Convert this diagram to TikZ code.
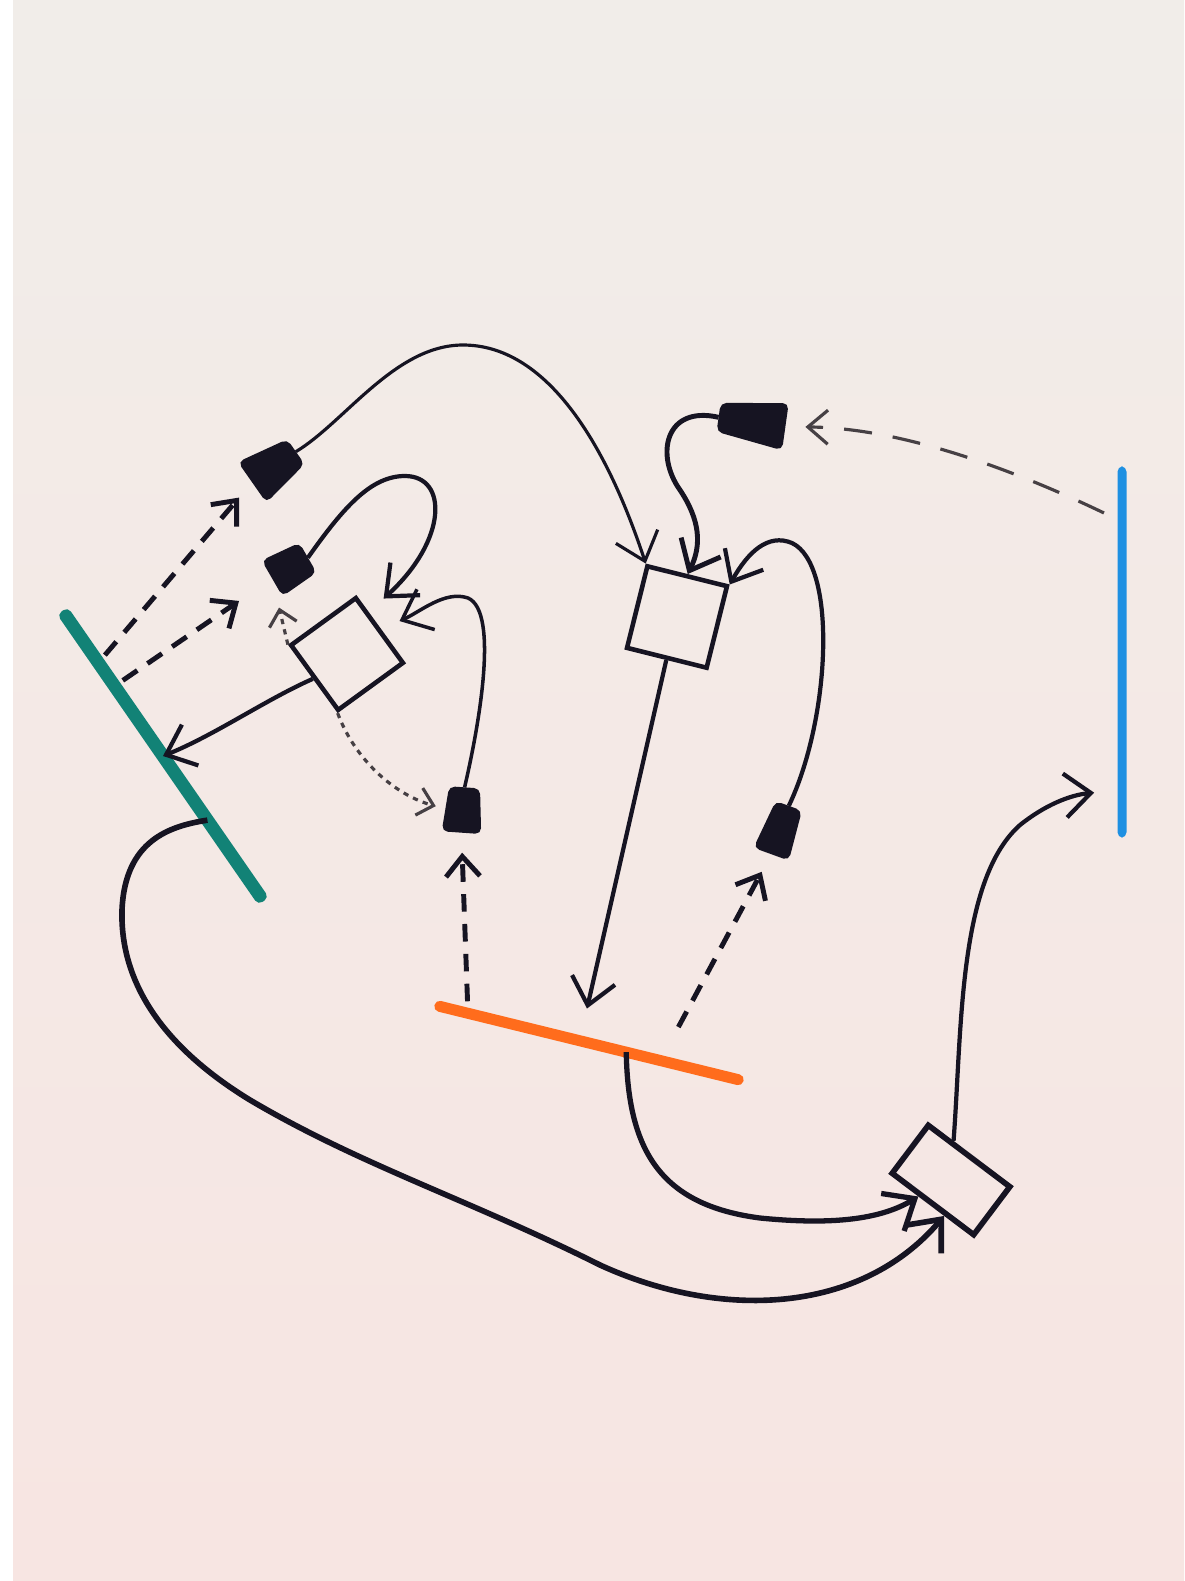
\documentclass[tikz,border=0pt]{standalone}
\usepackage{tikz}
\usetikzlibrary{shapes.geometric, arrows.meta, calc}
\definecolor{ink}{RGB}{22,20,34}
\definecolor{paper}{RGB}{247,229,226}
\definecolor{papertop}{RGB}{241,237,233}
\definecolor{tealbar}{RGB}{18,130,118}
\definecolor{orangebar}{RGB}{255,108,28}
\definecolor{bluebar}{RGB}{30,144,226}
\definecolor{pencil}{RGB}{70,64,68}
\tikzstyle{plug} = [
    trapezium,
    trapezium angle=72,
    trapezium stretches=true,
    rounded corners=1.5pt,
    inner sep=1pt,
    fill=ink,
    draw=ink
]
\tikzstyle{box} = [
    rectangle,
    inner sep=0pt,
    line width=1.3pt,
    draw=ink
]
\tikzstyle{bar} = [
    rectangle,
    rounded corners=1.5pt,
    inner sep=0pt,
    draw=none
]
\tikzstyle{arrow} = [line width=1.2pt,draw=ink,->,>={Straight Barb[length=2.6mm,width=4.4mm]}]
\tikzstyle{dasharrow} = [arrow,line width=1.4pt,dash pattern=on 5pt off 3.5pt,>={Straight Barb[length=2mm,width=3.4mm]}]
\tikzstyle{dotarrow} = [arrow,draw=pencil,line width=0.9pt,dash pattern=on 1.5pt off 1.5pt,>={Straight Barb[length=1.5mm,width=2.8mm]}]

\begin{document}
\begin{tikzpicture}[x=0.01cm, y=-0.01cm]

\useasboundingbox (0,0) rectangle (1184,1581);
\shade [top color=papertop, bottom color=paper] (0,0) rectangle (1184,1581);
\fill [white] (0,0) rectangle (13,1581);

\node (green) [bar, fill=tealbar, minimum width=3.53cm, minimum height=0.13cm, rotate=-55.3] at (163,756) {};

\node (orange) [bar, fill=orangebar, minimum width=3.18cm, minimum height=0.11cm, rotate=-13.8] at (589,1043) {};

\node (blue) [bar, fill=bluebar, minimum width=3.71cm, minimum height=0.09cm, rotate=-90] at (1122,652) {};

\node (boxA) [box, minimum size=0.8cm, rotate=36] at (347,654) {};

\node (boxB) [box, minimum width=0.82cm, minimum height=0.84cm, rotate=-14] at (677,617) {};

\node (boxC) [box, line width=1.6pt, minimum width=1.02cm, minimum height=0.6cm, rotate=-37] at (951,1180) {};

\node (plugA) [plug, minimum width=0.48cm, minimum height=0.52cm, rotate=-55] at (274,467) {};

\node (plugB) [plug, trapezium angle=84, minimum width=0.4cm, minimum height=0.4cm, rotate=-60] at (290,568) {};

\node (plugC) [plug, trapezium angle=82, minimum width=0.38cm, minimum height=0.44cm, rotate=-4] at (463,810) {};

\node (plugD) [plug, minimum width=0.46cm, minimum height=0.66cm, rotate=82] at (752,422) {};

\node (plugE) [plug, trapezium angle=80, minimum width=0.36cm, minimum height=0.5cm, rotate=-20] at (780,830) {};

\coordinate (gA) at ($(green.west)!0.18!(green.east)$);
\coordinate (gB) at ($(green.west)!0.26!(green.east)$);
\coordinate (gIn) at ($(green.west)!0.5!(green.east)$);
\coordinate (gOut) at ($(green.west)!0.72!(green.east)$);
\coordinate (oC) at ($(orange.west)!0.11!(orange.east)$);
\coordinate (oIn) at ($(orange.west)!0.47!(orange.east)$);
\coordinate (oOut) at ($(orange.west)!0.62!(orange.east)$);
\coordinate (oE) at ($(orange.west)!0.73!(orange.east)$);
\coordinate (bD) at ($(blue.west)!0.15!(blue.east)$);
\coordinate (bIn) at ($(blue.west)!0.87!(blue.east)$);

\draw [arrow, line width=0.9pt] (plugA.north) .. controls (345,422) and (395,345) .. (463,345) .. controls (545,345) and (605,440) .. (boxB.north west);
\draw [arrow, line width=1.4pt] (plugD.north) .. controls (665,405) and (655,455) .. (680,490) .. controls (700,520) and (702,545) .. (boxB.north);
\draw [arrow] (plugE.north) .. controls (830,720) and (838,565) .. (792,543) .. controls (768,533) and (748,552) .. (boxB.north east);
\draw [arrow, shorten >=0.33cm] (boxB.south) -- (oIn);

\draw [arrow, shorten >=0.2cm] (plugB.north) .. controls (345,505) and (372,476) .. (405,476) .. controls (448,476) and (448,540) .. ($(boxA.north east)!0.25!(boxA.south east)$);
\draw [arrow, line width=1pt, shorten >=0.2cm] (plugC.north) .. controls (478,730) and (500,612) .. (468,598) .. controls (445,590) and (420,612) .. (boxA.east);
\draw [arrow] (boxA.west) .. controls (265,700) and (215,735) .. (gIn);

\draw [dotarrow, shorten >=0.1cm] (boxA.south west) .. controls (355,760) and (395,795) .. (plugC.west);
\draw [dotarrow, shorten >=0.3cm] (boxA.north west) -- (plugB.south);

\draw [dasharrow, shorten <=0.1cm, shorten >=0.2cm] (gA) -- (plugA.south);
\draw [dasharrow, shorten <=0.1cm, shorten >=0.4cm] (gB) -- (plugB.south);
\draw [dasharrow, shorten <=0.12cm, shorten >=0.2cm] (oC) -- (plugC.south);
\draw [dasharrow, shorten <=0.38cm, shorten >=0.2cm] (oE) -- (plugE.south);
\draw [dasharrow, draw=pencil, line width=0.9pt, dash pattern=on 8pt off 6pt, shorten <=0.2cm, shorten >=0.2cm] (bD) .. controls (1010,468) and (900,428) .. (plugD.south);

\draw [arrow, line width=1.5pt] (oOut) .. controls (628,1150) and (660,1205) .. (760,1218) .. controls (830,1225) and (880,1220) .. ($(boxC.south west)!0.35!(boxC.south east)$);
\draw [arrow, line width=1.6pt] (gOut) .. controls (170,826) and (125,840) .. (122,910) .. controls (120,980) and (160,1045) .. (250,1100) .. controls (360,1165) and (470,1200) .. (600,1265) .. controls (720,1320) and (860,1315) .. ($(boxC.south west)!0.65!(boxC.south east)$);
\draw [arrow, shorten >=0.28cm] ($(boxC.north west)!0.3!(boxC.north east)$) .. controls (962,1030) and (958,880) .. (1020,825) .. controls (1045,805) and (1070,795) .. (bIn);

\end{tikzpicture}
\end{document}
